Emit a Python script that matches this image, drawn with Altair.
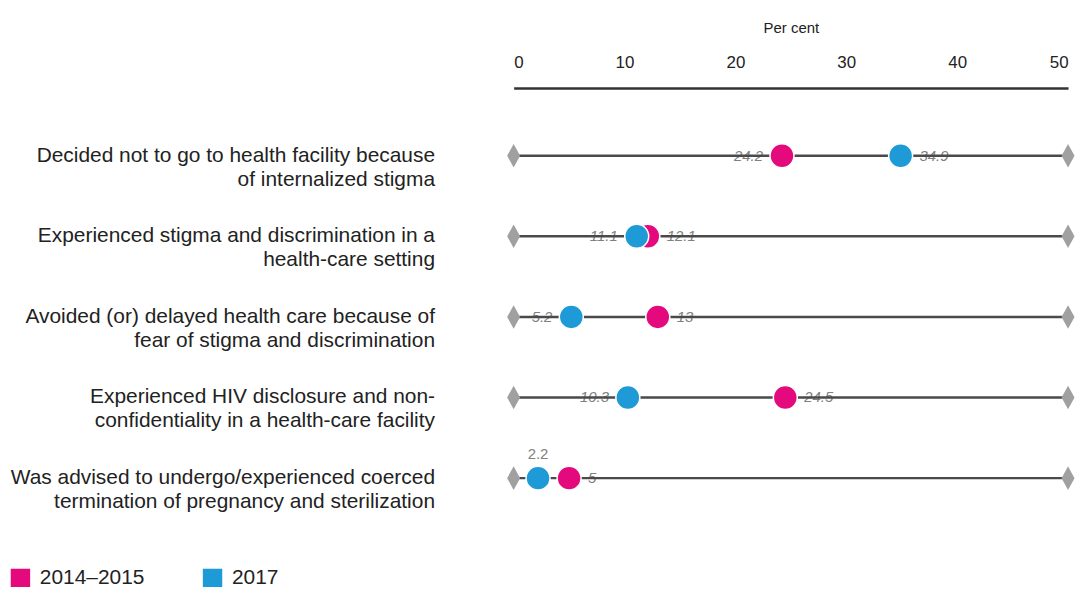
import altair as alt
import pandas as pd

categories = [
    "Decided not to go to health facility because\nof internalized stigma",
    "Experienced stigma and discrimination in a\nhealth-care setting",
    "Avoided (or) delayed health care because of\nfear of stigma and discrimination",
    "Experienced HIV disclosure and non-\nconfidentiality in a health-care facility",
    "Was advised to undergo/experienced coerced\ntermination of pregnancy and sterilization",
]
series = ["2014–2015", "2017"]
v2014 = [24.2, 12.1, 13, 24.5, 5]
v2017 = [34.9, 11.1, 5.2, 10.3, 2.2]
axis_min, axis_max = 0, 50

PINK = "#E4097D"
BLUE = "#1E9AD6"

rows = []
for c, a, b in zip(categories, v2014, v2017):
    lo, hi = min(a, b), max(a, b)
    for s, v in zip(series, [a, b]):
        if v == hi and v != lo:
            side = "right"
        else:
            side = "above" if lo < 3 else "left"
        rows.append({"cat": c, "series": s, "value": v, "label": f"{v:g}", "side": side})
pts = pd.DataFrame(rows)

lines = pd.DataFrame({"cat": categories, "x0": [axis_min] * 5, "x1": [axis_max] * 5})
ends = pd.DataFrame({"cat": categories * 2, "x": [axis_min] * 5 + [axis_max] * 5})

x_scale = alt.Scale(domain=[axis_min, axis_max], nice=False, zero=False)
y_scale = alt.Scale(domain=categories, type="point", padding=0.84)

x_axis = alt.Axis(
    orient="top", values=[0, 10, 20, 30, 40, 50], ticks=False, grid=False,
    domainColor="#333333", domainWidth=2.5, labelFontSize=17, labelColor="#222222",
    labelPadding=17, title="Per cent", titleFontSize=15, titleFontWeight="normal",
    titleColor="#222222", titlePadding=18, labelFont="Liberation Sans",
    titleFont="Liberation Sans",
)

base_y = alt.Y("cat:N", scale=y_scale, axis=None)

axis_layer = alt.Chart(lines).mark_rule(opacity=0).encode(
    x=alt.X("x0:Q", scale=x_scale, axis=x_axis), y=base_y
)

text_style = dict(font="Liberation Sans", fontSize=15, fontStyle="italic", color="#808080", baseline="middle")
lab_left = alt.Chart(pts).transform_filter("datum.side == 'left'").mark_text(
    align="right", dx=-19, **text_style
).encode(x=alt.X("value:Q", scale=x_scale), y=base_y, text="label:N")
lab_right = alt.Chart(pts).transform_filter("datum.side == 'right'").mark_text(
    align="left", dx=19, **text_style
).encode(x=alt.X("value:Q", scale=x_scale), y=base_y, text="label:N")
lab_above = alt.Chart(pts).transform_filter("datum.side == 'above'").mark_text(
    align="center", dy=-24, font="Liberation Sans", fontSize=15, color="#808080", baseline="middle"
).encode(x=alt.X("value:Q", scale=x_scale), y=base_y, text="label:N")

rule = alt.Chart(lines).mark_rule(color="#4a4a4a", strokeWidth=2.5).encode(
    x=alt.X("x0:Q", scale=x_scale), x2="x1:Q", y=base_y
)

diamonds = alt.Chart(ends).mark_point(
    shape="M0,-1L0.55,0L0,1L-0.55,0Z", filled=True, color="#a0a0a0", opacity=1, size=560
).encode(x=alt.X("x:Q", scale=x_scale), y=base_y)

dots = alt.Chart(pts).mark_point(
    shape="circle", filled=True, opacity=1, size=580, stroke="white", strokeWidth=1.5
).encode(
    x=alt.X("value:Q", scale=x_scale),
    y=base_y,
    color=alt.Color(
        "series:N",
        scale=alt.Scale(domain=series, range=[PINK, BLUE]),
        legend=alt.Legend(
            title=None, orient="none", direction="horizontal", legendX=-506, legendY=482,
            symbolType="square", symbolSize=380, symbolStrokeWidth=0, symbolOpacity=1,
            labelFontSize=21, labelFont="Liberation Sans", labelColor="#222222",
            labelOffset=9, columnPadding=57,
        ),
    ),
)

cat_labels = alt.Chart(lines).mark_text(
    align="right", baseline="middle", lineBreak="\n", fontSize=21, lineHeight=24,
    font="Liberation Sans", color="#222222"
).encode(x=alt.value(-79), y=base_y, text="cat:N")

chart = alt.layer(
    axis_layer, lab_left, lab_right, lab_above, rule, diamonds, dots, cat_labels
).properties(
    width=557, height=460,
    autosize=alt.AutoSizeParams(type="none"),
    padding={"left": 508, "top": 79, "right": 10, "bottom": 40},
).configure_view(stroke=None)

chart.save("out.html", embed_options={"renderer": "svg", "actions": False})
